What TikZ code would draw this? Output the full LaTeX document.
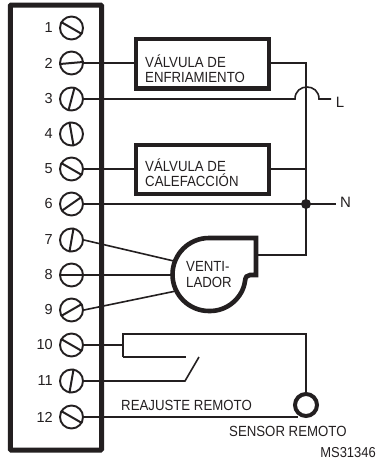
\documentclass[tikz,border=0pt]{standalone}
\usepackage{fontspec}
\setmainfont{Liberation Sans}
\newfontfamily\narrowsans[FakeStretch=0.9]{Liberation Sans}
\definecolor{ink}{HTML}{231F20}
\tikzset{
  x=1pt,y=-1pt,
  wire/.style={draw=ink,line width=1.6pt},
  heavy/.style={draw=ink,line width=4.2pt},
  screw/.style={circle,draw=ink,line width=1.9pt,minimum size=23pt,inner sep=0pt},
  slot/.style={draw=ink,line width=2pt},
  num/.style={text=ink,font=\fontsize{14.5}{14.5}\selectfont,anchor=east,inner sep=0pt},
  lab/.style={text=ink,font=\narrowsans\fontsize{14.7}{15.5}\selectfont,inner sep=0pt},
  valve/.style={heavy,fill=white}
}
\newcommand{\screwat}[4]{%
  \node[screw] (s#1) at (71.5,#2) {};
  \node[num] (n#1) at (53,#2) {#1};
  \draw[slot] (s#1.#3) -- (s#1.#4);
}
\begin{document}
\begin{tikzpicture}
\useasboundingbox (0,0) rectangle (376,463);
\fill[white] (0,0) rectangle (376,463);
\draw[heavy,line width=5pt,rounded corners=0.8pt] (10.3,5) rectangle (101.5,450);
\coordinate (w2r) at (306,63);
\coordinate (w5r) at (306,169);
\coordinate (dot) at (306,204);
\coordinate (fanj) at (306,255);
\coordinate (a1) at (295,99);
\coordinate (a2) at (319,99);
\coordinate (Lend) at (331,99);
\coordinate (Nend) at (336,204);
\coordinate (sw1) at (123,345);
\coordinate (sw2) at (123,357);
\coordinate (sw3) at (185,381);
\coordinate (sw4) at (199,357);
\coordinate (sw5) at (186,357);
\coordinate (sens) at (306,334);
\screwat{1}{28}{150}{-30}
\screwat{2}{63}{185}{5}
\screwat{3}{99}{255}{75}
\screwat{4}{134}{100}{-80}
\screwat{5}{169}{150}{-30}
\screwat{6}{204}{215}{35}
\screwat{7}{240}{260}{80}
\screwat{8}{275}{180}{0}
\screwat{9}{310}{210}{30}
\screwat{10}{345}{150}{-30}
\screwat{11}{381}{260}{80}
\screwat{12}{417}{150}{-30}
% valves
\node[valve,minimum width=133pt,minimum height=49.5pt,inner sep=0pt] (v1) at (202.5,63.7) {};
\node[valve,minimum width=133pt,minimum height=49pt,inner sep=0pt] (v2) at (202.5,169.5) {};
\node[lab,align=left,anchor=west] (t1) at (145,68.5) {VÁLVULA DE\\ENFRIAMIENTO};
\node[lab,align=left,anchor=west] (t2) at (145,172.5) {VÁLVULA DE\\CALEFACCIÓN};
% wires
\draw[wire] (s2.east) -- (v1.west|-s2.east);
\draw[wire] (v1.east|-w2r) -- (w2r) -- (fanj) -- (257,255);
\draw[wire] (s3.east) -- (a1) .. controls (295,83) and (319,83) .. (a2) -- (Lend);
\draw[wire] (s5.east) -- (v2.west|-s5.east);
\draw[wire] (v2.east|-w5r) -- (w5r);
\draw[wire] (s6.east) -- (Nend);
\fill[ink] (dot) circle (5);
\node[lab,font=\fontsize{15}{15}\selectfont] (L) at (340,102.5) {L};
\node[lab,font=\fontsize{15}{15}\selectfont] (N) at (345.5,202.5) {N};
% fan
\draw[wire] (s7.east) -- (176,261.5);
\draw[wire] (s8.west) -- (176,275);
\draw[wire] (s9.east) -- (176,291);
\draw[heavy,line width=4.6pt,fill=white] (256,238) -- (209,238)
  arc[start angle=-90,end angle=-270,radius=36.5]
  .. controls (228,311.5) and (243,297) .. (245,281)
  .. controls (245.5,277) and (247,275) .. (250,275) -- (256,275) -- cycle;
\node[lab,align=left,anchor=west] (fant) at (186,274.5) {VENTI-\\LADOR};
% remote
\draw[wire] (s10.east) -- (sw1);
\draw[wire] (sw2) -- (123,334) -- (sens) -- (306,393);
\draw[wire] (sw2) -- (sw5);
\draw[wire] (s11.east) -- (sw3) -- (sw4);
\draw[wire] (s12.east) -- (298,417);
\node[circle,draw=ink,line width=4pt,minimum size=22pt,inner sep=0pt,fill=white] (sn) at (306,405) {};
\node[lab,anchor=west] (re) at (121,405) {REAJUSTE REMOTO};
\node[lab,anchor=west] (se) at (229,431) {SENSOR REMOTO};
\node[lab,anchor=east,font=\narrowsans\fontsize{14.4}{14.4}\selectfont] (ms) at (376,453) {MS31346};
\end{tikzpicture}
\end{document}
